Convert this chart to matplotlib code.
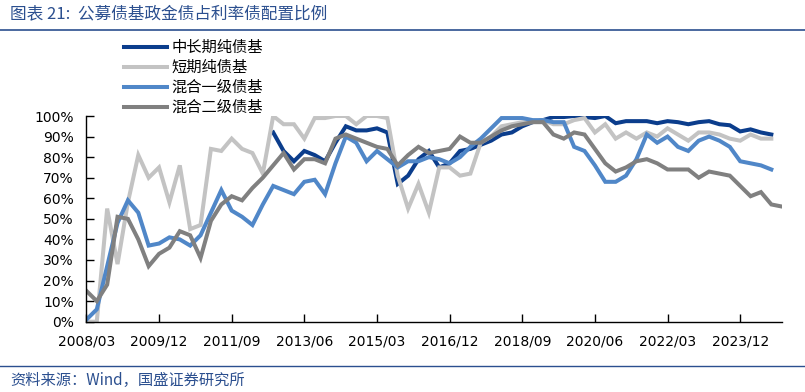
import numpy as np
import matplotlib.pyplot as plt
from matplotlib.ticker import FuncFormatter, MultipleLocator

plt.rcParams['font.family'] = ['DejaVu Sans', 'Noto Sans CJK SC']

# 季度数据 2008/03 起
tick_labels = ['2008/03', '2009/12', '2011/09', '2013/06', '2015/03',
               '2016/12', '2018/09', '2020/06', '2022/03', '2023/12']

long_pure = [np.nan] * 18 + [
    92, 83, 78, 83, 81, 78, 87, 95, 93, 93, 94, 92, 67, 71, 79, 83, 75, 77,
    83, 84, 86, 88, 91, 92, 95, 97, 98, 99.5, 99.5, 100, 99.5, 99, 100, 96.5,
    97.5, 97.5, 97.5, 96.5, 97.5, 97, 96, 97, 97.5, 96, 95.5, 92.5, 93.5, 92, 91]

short_pure = [
    0, 0, 55, 28, 58, 81, 70, 75, 58, 76, 45, 47, 84, 83, 89, 84, 82, 72,
    100, 96, 96, 89, 99, 99, 100, 100, 96, 100, 100, 99, 71, 55, 67, 53, 75, 75,
    71, 72, 87, 90, 95, 96, 97, 97, 98, 96, 96, 98, 99, 92, 96, 89, 92, 89,
    92, 90, 94, 91, 88, 92, 92, 91, 89, 88, 91, 89, 89]

mixed_1 = [
    1, 6, 27, 48, 59, 53, 37, 38, 41, 40, 37, 42, 53, 64, 54, 51, 47, 57,
    66, 64, 62, 68, 69, 62, 77, 90, 87, 78, 83, 79, 75, 78, 78, 80, 79, 77,
    80, 85, 89, 94, 99, 99, 99, 98, 98, 97, 97, 85, 83, 76, 68, 68, 71, 79,
    91, 87, 90, 85, 83, 88, 90, 88, 85, 78, 77, 76, 74]

mixed_2 = [
    15, 10, 18, 51, 50, 40, 27, 33, 36, 44, 42, 31, 49, 57, 61, 59, 65, 70,
    76, 82, 74, 79, 79, 77, 89, 91, 89, 87, 85, 84, 76, 81, 85, 82, 83, 84,
    90, 87, 87, 90, 93, 95, 96, 97, 97, 91, 89, 92, 91, 84, 77, 73, 75, 78,
    79, 77, 74, 74, 74, 70, 73, 72, 71, 66, 61, 63, 57, 56]

series = [
    ('中长期纯债基', long_pure, '#0b3d8c'),
    ('短期纯债基', short_pure, '#c3c3c3'),
    ('混合一级债基', mixed_1, '#5087c8'),
    ('混合二级债基', mixed_2, '#808080'),
]

W, H = 805, 392
fig = plt.figure(figsize=(W / 100, H / 100), dpi=100)
ax = fig.add_axes([86.4 / W, 1 - 321.7 / H, (781.7 - 86.4) / W, (321.7 - 116) / H])

for name, vals, color in series:
    y = np.array(vals, dtype=float) / 100
    ax.plot(np.arange(len(y)), y, color=color, lw=2.9, label=name,
            solid_joinstyle='miter')

ax.set_xlim(0, 67)
ax.set_ylim(0, 1)
ax.yaxis.set_major_locator(MultipleLocator(0.1))
ax.yaxis.set_major_formatter(FuncFormatter(lambda v, p: f'{v:.0%}'))
ax.set_xticks(np.arange(0, 64, 7))
ax.set_xticklabels(tick_labels)
ax.tick_params(direction='in', length=6, width=1, labelsize=10, color='black')
ax.tick_params(axis='x', pad=9)
ax.tick_params(axis='y', pad=9)
for s in ['top', 'right']:
    ax.spines[s].set_visible(False)
for s in ['left', 'bottom']:
    ax.spines[s].set_linewidth(1)
ax.patch.set_alpha(0)

fig.legend(loc='upper left', bbox_to_anchor=(124 / W, 1 - 39 / H),
           frameon=False, handlelength=2.8, handletextpad=0.3,
           labelspacing=0.2, borderpad=0, borderaxespad=0,
           prop={'family': ['Noto Sans CJK SC'], 'size': 11})

blue_txt = '#2b4f8f'
fig.text(10 / W, 1 - 14 / H, '图表 21:  公募债基政金债占利率债配置比例',
         fontsize=12, color=blue_txt, va='center', style='italic',
         family=['Noto Sans CJK SC', 'DejaVu Sans'])
fig.add_artist(plt.Line2D([0, 1], [1 - 30 / H] * 2, transform=fig.transFigure,
                          color=blue_txt, lw=1.2))
fig.add_artist(plt.Line2D([0, 1], [1 - 366 / H] * 2, transform=fig.transFigure,
                          color=blue_txt, lw=1.0))
fig.text(10 / W, 1 - 380 / H, '资料来源：Wind，国盛证券研究所',
         fontsize=11, color=blue_txt, va='center', style='italic',
         family=['Noto Sans CJK SC', 'DejaVu Sans'])

fig.savefig('out.png', dpi=100)
